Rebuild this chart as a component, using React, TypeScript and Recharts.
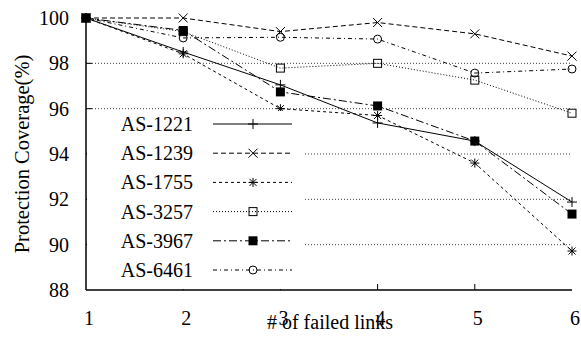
import React from "react";
import { LineChart, Line, XAxis, YAxis, CartesianGrid, Legend } from "recharts";

// # of failed links
const failedLinks = [1, 2, 3, 4, 5, 6];

// protection coverage (%) per AS
const as1221 = [100, 98.5, 97.05, 95.37, 94.57, 91.88];
const as1239 = [100, 100, 99.4, 99.8, 99.3, 98.32];
const as1755 = [100, 98.42, 96.0, 95.7, 93.6, 89.72];
const as3257 = [100, 99.4, 97.79, 98.0, 97.26, 95.8];
const as3967 = [100, 99.45, 96.74, 96.12, 94.57, 91.35];
const as6461 = [100, 99.12, 99.15, 99.07, 97.57, 97.75];

const xTicks = [1, 2, 3, 4, 5, 6];
const yTicks = [88, 90, 92, 94, 96, 98, 100];
const gridLevels = [90, 92, 94, 96, 98];

const FONT = "Liberation Serif, DejaVu Serif, serif";
const txt = { fontFamily: FONT };

type MarkerKind = "plus" | "cross" | "star" | "square" | "filled" | "circle";

const series: { name: string; values: number[]; dash?: string; marker: MarkerKind }[] = [
  { name: "AS-1221", values: as1221, marker: "plus" },
  { name: "AS-1239", values: as1239, dash: "5 3", marker: "cross" },
  { name: "AS-1755", values: as1755, dash: "3 3", marker: "star" },
  { name: "AS-3257", values: as3257, dash: "1 2", marker: "square" },
  { name: "AS-3967", values: as3967, dash: "8 3 2 3", marker: "filled" },
  { name: "AS-6461", values: as6461, dash: "4 3 1 3", marker: "circle" },
];

const data = failedLinks.map((x, i) => {
  const row: Record<string, number> = { x };
  series.forEach((s) => (row[s.name] = s.values[i]));
  return row;
});

function Marker({ kind, cx, cy }: { kind: MarkerKind; cx: number; cy: number }) {
  const st = { stroke: "#000", strokeWidth: 1, fill: "none" };
  switch (kind) {
    case "plus":
      return <path d={`M${cx - 5},${cy}H${cx + 5}M${cx},${cy - 5}V${cy + 5}`} {...st} />;
    case "cross":
      return <path d={`M${cx - 4.5},${cy - 4.5}L${cx + 4.5},${cy + 4.5}M${cx - 4.5},${cy + 4.5}L${cx + 4.5},${cy - 4.5}`} {...st} />;
    case "star":
      return (
        <path
          d={`M${cx - 4.5},${cy}H${cx + 4.5}M${cx},${cy - 4.5}V${cy + 4.5}M${cx - 3.5},${cy - 3.5}L${cx + 3.5},${cy + 3.5}M${cx - 3.5},${cy + 3.5}L${cx + 3.5},${cy - 3.5}`}
          {...st}
        />
      );
    case "square":
      return <rect x={cx - 4} y={cy - 4} width={8} height={8} {...st} />;
    case "filled":
      return <rect x={cx - 4.5} y={cy - 4.5} width={9} height={9} fill="#000" />;
    case "circle":
      return <circle cx={cx} cy={cy} r={4} {...st} />;
  }
}

const BottomTick = (p: any) => {
  const { x, y, payload } = p;
  const inner = payload.value !== xTicks[0] && payload.value !== xTicks[xTicks.length - 1];
  return (
    <g>
      {inner && <line x1={x} y1={y} x2={x} y2={y - 6} stroke="#000" />}
      <text x={x + 3} y={y + 35} textAnchor="middle" style={txt} fontSize={20} fill="#000">
        {payload.value}
      </text>
    </g>
  );
};

const TopTick = (p: any) => {
  const { x, y, payload } = p;
  const inner = payload.value !== xTicks[0] && payload.value !== xTicks[xTicks.length - 1];
  return <g>{inner && <line x1={x} y1={y} x2={x} y2={y + 6} stroke="#000" />}</g>;
};

const LeftTick = (p: any) => {
  const { x, y, payload } = p;
  const inner = payload.value !== yTicks[0] && payload.value !== yTicks[yTicks.length - 1];
  return (
    <g>
      {inner && <line x1={x} y1={y} x2={x + 6} y2={y} stroke="#000" />}
      <text x={x - 17} y={y} dy="0.35em" textAnchor="end" style={txt} fontSize={20} fill="#000">
        {payload.value}
      </text>
    </g>
  );
};

const RightTick = (p: any) => {
  const { x, y, payload } = p;
  const inner = payload.value !== yTicks[0] && payload.value !== yTicks[yTicks.length - 1];
  return <g>{inner && <line x1={x} y1={y} x2={x - 6} y2={y} stroke="#000" />}</g>;
};

const LegendBox = () => (
  <svg width={218} height={178} style={{ display: "block" }}>
    {series.map((s, i) => {
      const cy = 13 + i * 29.2;
      return (
        <g key={s.name}>
          <text x={106} y={cy} dy="0.35em" textAnchor="end" style={txt} fontSize={20} fill="#000">
            {s.name}
          </text>
          <line x1={126} y1={cy} x2={205} y2={cy} stroke="#000" strokeWidth={1} strokeDasharray={s.dash} />
          <Marker kind={s.marker} cx={166} cy={cy} />
        </g>
      );
    })}
  </svg>
);

export default function App() {
  return (
    <div style={{ position: "absolute", left: 0, top: 0, background: "#fff", fontFamily: FONT }}>
      <LineChart width={581} height={342} data={data} margin={{ top: 18, right: 9, bottom: 22, left: 0 }}>
        <CartesianGrid
          horizontal
          vertical={false}
          horizontalValues={gridLevels}
          stroke="#444"
          strokeDasharray="1 2"
        />
        <XAxis
          dataKey="x"
          type="number"
          domain={[1, 6]}
          ticks={xTicks}
          height={30}
          tickSize={0}
          tickMargin={0}
          tickLine={false}
          tick={BottomTick}
          axisLine={{ stroke: "#000", strokeWidth: 1.5 }}
          label={{
            content: (props: any) => {
              const vb = props.viewBox;
              return (
                <text x={vb.x + vb.width / 2 + 1} y={vb.y + 39} textAnchor="middle" style={txt} fontSize={20} fill="#000">
                  # of failed links
                </text>
              );
            },
          }}
        />
        <XAxis
          xAxisId="top"
          orientation="top"
          dataKey="x"
          type="number"
          domain={[1, 6]}
          ticks={xTicks}
          height={0}
          tickSize={0}
          tickMargin={0}
          tickLine={false}
          tick={TopTick}
          axisLine={{ stroke: "#000", strokeWidth: 1.5 }}
        />
        <YAxis
          type="number"
          domain={[88, 100]}
          ticks={yTicks}
          width={86}
          tickSize={0}
          tickMargin={0}
          tickLine={false}
          tick={LeftTick}
          axisLine={{ stroke: "#000", strokeWidth: 1.5 }}
          label={{
            content: (props: any) => {
              const vb = props.viewBox;
              const cx = 29;
              const cy = vb.y + vb.height / 2;
              return (
                <text x={cx} y={cy} transform={`rotate(-90 ${cx} ${cy})`} textAnchor="middle" style={txt} fontSize={20.5} fill="#000">
                  Protection Coverage(%)
                </text>
              );
            },
          }}
        />
        <YAxis
          yAxisId="right"
          orientation="right"
          type="number"
          domain={[88, 100]}
          ticks={yTicks}
          width={0}
          tickSize={0}
          tickMargin={0}
          tickLine={false}
          tick={RightTick}
          axisLine={{ stroke: "#000", strokeWidth: 1.5 }}
        />
        <Legend
          verticalAlign="middle"
          align="center"
          layout="horizontal"
          wrapperStyle={{ position: "absolute", left: 87, top: 111, width: 218, height: 178, background: "#fff" }}
          content={() => <LegendBox />}
        />
        {series.map((s) => (
          <Line
            key={s.name}
            dataKey={s.name}
            name={s.name}
            stroke="#000"
            strokeWidth={1}
            strokeDasharray={s.dash}
            isAnimationActive={false}
            dot={(p: any) => <Marker key={`${s.name}-${p.index}`} kind={s.marker} cx={p.cx} cy={p.cy} />}
            activeDot={false}
          />
        ))}
      </LineChart>
    </div>
  );
}
